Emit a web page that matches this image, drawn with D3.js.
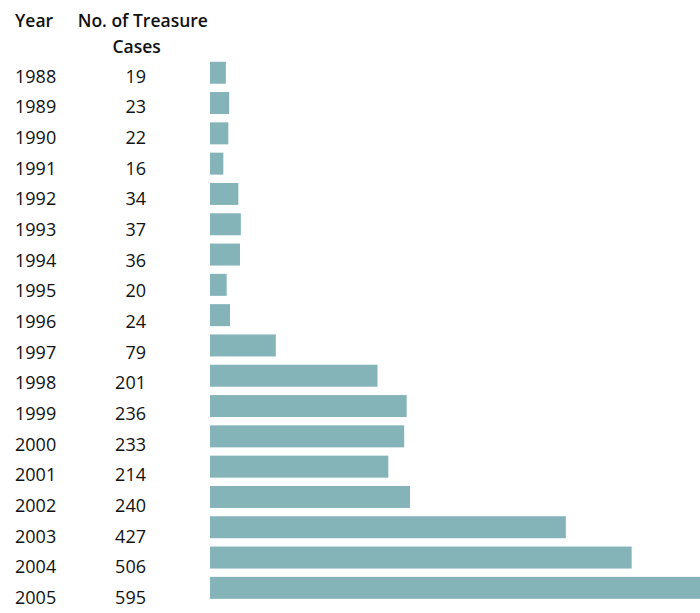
<!DOCTYPE html>
<html>
<head>
<meta charset="utf-8">
<script src="https://cdn.jsdelivr.net/npm/d3@7"></script>
<style>
  html, body { margin: 0; padding: 0; background: #fff; }
  svg { display: block; }
  text { font-family: "Open Sans", "Noto Sans", sans-serif; fill: #111; }
</style>
</head>
<body>
<svg id="chart" width="700" height="613"></svg>
<script>
// Treasure cases per year
const years = ["1988","1989","1990","1991","1992","1993","1994","1995","1996",
               "1997","1998","1999","2000","2001","2002","2003","2004","2005"];
const cases = [19, 23, 22, 16, 34, 37, 36, 20, 24, 79, 201, 236, 233, 214, 240, 427, 506, 595];
const headerYear = "Year";
const headerCount = ["No. of Treasure", "Cases"];

const rows = years.map((y, i) => ({ year: y, value: cases[i] }));

const svg = d3.select("#chart");

// Bar rows
const y = d3.scaleBand()
  .domain(years)
  .range([57.6, 603.0])
  .paddingInner(0.274)
  .paddingOuter(0.137);

// Text rows (baselines) run on a slightly wider pitch than the bars
const yText = d3.scalePoint()
  .domain(years)
  .range([82.5, 604]);

const x = d3.scaleLinear()
  .domain([0, 600])
  .range([210, 710]);

const headSize = 17.5;
const bodySize = 18;

// Column headers
svg.append("text")
  .attr("x", 15).attr("y", 26.5)
  .attr("font-size", headSize).attr("font-weight", 600)
  .text(headerYear);

svg.append("text")
  .attr("x", 142.8).attr("y", 26.5)
  .attr("text-anchor", "middle")
  .attr("font-size", headSize).attr("font-weight", 600)
  .text(headerCount[0]);

svg.append("text")
  .attr("x", 136.7).attr("y", 53)
  .attr("text-anchor", "middle")
  .attr("font-size", headSize).attr("font-weight", 600)
  .text(headerCount[1]);

// Bars
svg.append("g")
  .selectAll("rect")
  .data(rows)
  .join("rect")
  .attr("x", x(0))
  .attr("y", d => y(d.year))
  .attr("width", d => x(d.value) - x(0))
  .attr("height", y.bandwidth())
  .attr("fill", "#84b4b8");

// Year labels
svg.append("g")
  .selectAll("text")
  .data(rows)
  .join("text")
  .attr("x", 15)
  .attr("y", d => yText(d.year))
  .attr("font-size", bodySize)
  .text(d => d.year);

// Value labels
svg.append("g")
  .selectAll("text")
  .data(rows)
  .join("text")
  .attr("x", 146)
  .attr("y", d => yText(d.year))
  .attr("text-anchor", "end")
  .attr("font-size", bodySize)
  .text(d => d.value);
</script>
</body>
</html>
